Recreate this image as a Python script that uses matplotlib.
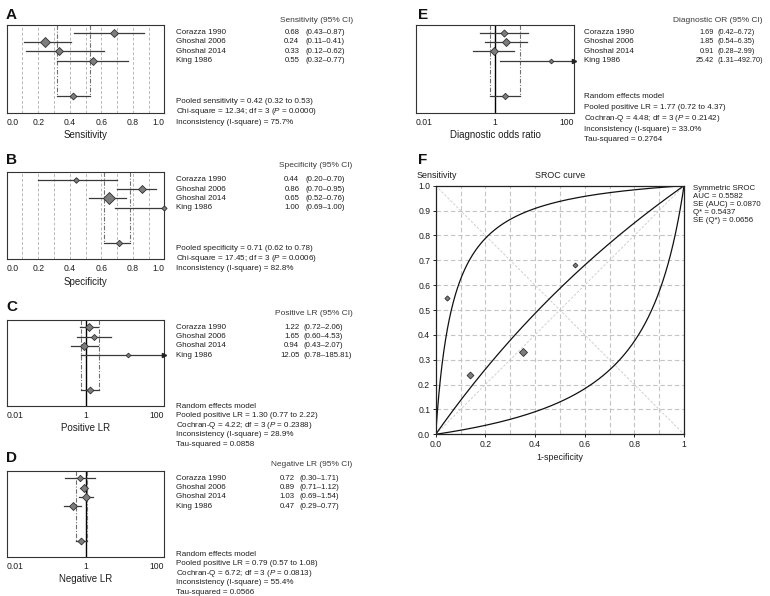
import numpy as np
import matplotlib
matplotlib.use("Agg")
import matplotlib.pyplot as plt
from matplotlib import transforms

plt.rcParams["font.family"] = "Liberation Sans"
plt.rcParams["mathtext.fontset"] = "custom"
plt.rcParams["mathtext.it"] = "Liberation Sans:italic"
plt.rcParams["mathtext.rm"] = "Liberation Sans"

# ---- data ----
studies = ["Corazza 1990", "Ghoshal 2006", "Ghoshal 2014", "King 1986"]

sens = [0.68, 0.24, 0.33, 0.55]
sens_lo = [0.43, 0.11, 0.12, 0.32]
sens_hi = [0.87, 0.41, 0.62, 0.77]
sens_pool = [0.42, 0.32, 0.53]

spec = [0.44, 0.86, 0.65, 1.00]
spec_lo = [0.20, 0.70, 0.52, 0.69]
spec_hi = [0.70, 0.95, 0.76, 1.00]
spec_pool = [0.71, 0.62, 0.78]

plr = [1.22, 1.65, 0.94, 12.05]
plr_lo = [0.72, 0.60, 0.43, 0.78]
plr_hi = [2.06, 4.53, 2.07, 185.81]
plr_pool = [1.30, 0.77, 2.22]

nlr = [0.72, 0.89, 1.03, 0.47]
nlr_lo = [0.30, 0.71, 0.69, 0.29]
nlr_hi = [1.71, 1.12, 1.54, 0.77]
nlr_pool = [0.79, 0.57, 1.08]

dor = [1.69, 1.85, 0.91, 25.42]
dor_lo = [0.42, 0.54, 0.28, 1.31]
dor_hi = [6.72, 6.35, 2.99, 492.70]
dor_pool = [1.77, 0.72, 4.37]

# SROC: observed points (1-specificity, sensitivity) and curve parameters (D)
sroc_fpr = [0.56, 0.14, 0.35, 0.045]
sroc_sens = [0.68, 0.24, 0.33, 0.55]
sroc_D = [2.70, 0.35, -1.90]

# ---- layout helpers ----
W, H = 770, 596
fig = plt.figure(figsize=(W / 100, H / 100), dpi=100)
TXT = "#1e1e1e"
FS = 5.8      # names / stats
MK = 1.2      # marker scale


def box(l, t, r, b):
    return fig.add_axes([l / W, 1 - b / H, (r - l) / W, (b - t) / H])


def ftext(x, y, s, **kw):
    kw.setdefault("size", FS)
    kw.setdefault("color", TXT)
    kw.setdefault("va", "center")
    fig.text(x / W, 1 - y / H, s, **kw)


def forest(ax, est, lo, hi, pool, sizes, log, xlabel):
    xmin, xmax = (0.01, 100) if log else (0, 1)
    prow = 6.75
    if log:
        ax.set_xscale("log")
    ax.set_xlim(xmin, xmax)
    ax.set_ylim(8.5, -0.8)
    if log:
        ax.axvline(1, color="black", lw=1, zorder=1)
        ticks, labels = [0.01, 1, 100], ["0.01", "1", "100"]
    else:
        for g in np.arange(0.1, 0.95, 0.1):
            ax.axvline(g, color="#b8b8b8", lw=0.7, ls=(0, (3, 2)), zorder=0)
        ticks = [0, 0.2, 0.4, 0.6, 0.8, 1.0]
        labels = ["0.0", "0.2", "0.4", "0.6", "0.8", "1.0"]
    ax.vlines([pool[1], pool[2]], -0.8, prow, colors="#707070", lw=0.8,
              linestyles=(0, (4, 1.5, 1, 1.5)), zorder=1)
    for r, (e, l, h) in enumerate(zip(est, lo, hi)):
        ax.plot([l, min(h, xmax)], [r, r], color="#3a3a3a", lw=0.9, zorder=2)
        if h > xmax:
            ax.plot(xmax, r, marker=">", ms=3, color="#222222", clip_on=False, zorder=3)
        ax.plot(e, r, marker="D", ms=sizes[r] * MK, mfc="#7d7d7d", mec="#303030",
                mew=0.6, zorder=4, clip_on=False)
    ax.plot([pool[1], pool[2]], [prow, prow], color="#3a3a3a", lw=0.9, zorder=2)
    ax.plot(pool[0], prow, marker="D", ms=sizes[-1] * MK, mfc="#7d7d7d", mec="#303030",
            mew=0.6, zorder=4)
    ax.set_xticks(ticks)
    ax.set_xticklabels(labels)
    ax.minorticks_off()
    tl = ax.get_xticklabels()
    tl[0].set_ha("left")
    tl[-1].set_ha("right")
    ax.set_yticks([])
    ax.tick_params(length=0, pad=3.5, labelsize=6.2, labelcolor=TXT)
    for sp in ax.spines.values():
        sp.set_linewidth(0.8)
        sp.set_color("#333333")
    ax.set_xlabel(xlabel, size=7.0, color=TXT, labelpad=2.5)


def table(ax, est, lo, hi, header, hdr_y, name_x, val_x, ci_x, hdr_x, num=5.6):
    tr = transforms.blended_transform_factory(fig.transFigure, ax.transData)
    ftext(hdr_x, hdr_y, header, ha="right", size=6.0, color="#3a3a3a")
    for r, (n, e, l, h) in enumerate(zip(studies, est, lo, hi)):
        fig.text(name_x / W, r, n, transform=tr, size=FS, color=TXT, va="center")
        fig.text(val_x / W, r, f"{e:.2f}", transform=tr, size=num, color=TXT,
                 va="center", ha="right")
        fig.text(ci_x / W, r, f"({l:.2f}–{h:.2f})", transform=tr, size=num,
                 color=TXT, va="center")


def stats(lines, x, y0, dy):
    for i, s in enumerate(lines):
        ftext(x, y0 + i * dy, s)


# ---- A ----
axA = box(6.7, 25, 164.3, 112.7)
forest(axA, sens, sens_lo, sens_hi, sens_pool, [3.2, 3.9, 3.1, 3.1, 2.9], False, "Sensitivity")
table(axA, sens, sens_lo, sens_hi, "Sensitivity (95% CI)", 21, 175.7, 299.3, 305.5, 352.7)
stats(["Pooled sensitivity = 0.42 (0.32 to 0.53)",
       r"Chi-square = 12.34; df = 3 ($\mathit{P}$ = 0.0000)",
       "Inconsistency (I-square) = 75.7%"], 175.7, 101.7, 10.2)
ftext(6, 15, "A", size=11, weight="bold", color="#111111")

# ---- B ----
axB = box(6.7, 172.3, 164.3, 259.3)
forest(axB, spec, spec_lo, spec_hi, spec_pool, [2.4, 3.4, 4.7, 2.2, 2.7], False, "Specificity")
table(axB, spec, spec_lo, spec_hi, "Specificity (95% CI)", 165.3, 175.7, 299.3, 305.5, 352.7)
stats(["Pooled specificity = 0.71 (0.62 to 0.78)",
       r"Chi-square = 17.45; df = 3 ($\mathit{P}$ = 0.0006)",
       "Inconsistency (I-square) = 82.8%"], 175.7, 248.7, 9.7)
ftext(6, 160, "B", size=11, weight="bold", color="#111111")

# ---- C ----
axC = box(6.7, 320, 164.3, 405.7)
forest(axC, plr, plr_lo, plr_hi, plr_pool, [3.4, 2.6, 3.2, 2.0, 2.9], True, "Positive LR")
table(axC, plr, plr_lo, plr_hi, "Positive LR (95% CI)", 313.7, 175.7, 299.3, 303.5, 352.7)
stats(["Random effects model",
       "Pooled positive LR = 1.30 (0.77 to 2.22)",
       r"Cochran-Q = 4.22; df = 3 ($\mathit{P}$ = 0.2388)",
       "Inconsistency (I-square) = 28.9%",
       "Tau-squared = 0.0858"], 175.7, 406, 9.6)
ftext(6, 306.7, "C", size=11, weight="bold", color="#111111")

# ---- D ----
axD = box(6.7, 471, 164.3, 556.7)
forest(axD, nlr, nlr_lo, nlr_hi, nlr_pool, [2.7, 3.7, 3.4, 3.1, 2.9], True, "Negative LR")
table(axD, nlr, nlr_lo, nlr_hi, "Negative LR (95% CI)", 465, 175.7, 294.5, 299.5, 352.7)
stats(["Random effects model",
       "Pooled positive LR = 0.79 (0.57 to 1.08)",
       r"Cochran-Q = 6.72; df = 3 ($\mathit{P}$ = 0.0813)",
       "Inconsistency (I-square) = 55.4%",
       "Tau-squared = 0.0566"], 175.7, 554.5, 9.4)
ftext(6, 458.3, "D", size=11, weight="bold", color="#111111")

# ---- E ----
axE = box(416, 25, 574.3, 112.7)
forest(axE, dor, dor_lo, dor_hi, dor_pool, [3.0, 3.6, 3.7, 2.0, 2.7], True, "Diagnostic odds ratio")
table(axE, dor, dor_lo, dor_hi, "Diagnostic OR (95% CI)", 21, 584, 714, 718, 762.7, num=5.2)
stats(["Random effects model",
       "Pooled positive LR = 1.77 (0.72 to 4.37)",
       r"Cochran-Q = 4.48; df = 3 ($\mathit{P}$ = 0.2142)",
       "Inconsistency (I-square) = 33.0%",
       "Tau-squared = 0.2764"], 584, 97, 10.7)
ftext(418, 15, "E", size=11, weight="bold", color="#111111")

# ---- F: SROC ----
axF = box(435.7, 185.7, 684, 434.3)
axF.set_xlim(0, 1)
axF.set_ylim(0, 1)
for g in np.arange(0.1, 0.95, 0.1):
    axF.axvline(g, color="#c4c4c4", lw=0.8, ls=(0, (4, 2.5)), zorder=0)
    axF.axhline(g, color="#c4c4c4", lw=0.8, ls=(0, (4, 2.5)), zorder=0)
axF.plot([0, 1], [0, 1], color="#c8c8c8", lw=0.6, ls=(0, (3, 2)), zorder=1)
axF.plot([0, 1], [1, 0], color="#c8c8c8", lw=0.6, ls=(0, (3, 2)), zorder=1)
f = np.linspace(0, 1, 801)
with np.errstate(divide="ignore", invalid="ignore"):
    for d in sroc_D:
        s = 1 / (1 + np.exp(-d) * (1 - f) / f)
        s[0], s[-1] = 0, 1
        axF.plot(f, s, color="#111111", lw=0.9, zorder=2)
for x, y, ms in zip(sroc_fpr, sroc_sens, [2.1, 2.9, 3.2, 2.2]):
    axF.plot(x, y, marker="D", ms=ms * MK, mfc="#7d7d7d", mec="#303030", mew=0.6, zorder=3)
axF.set_xticks([0, 0.2, 0.4, 0.6, 0.8, 1])
axF.set_xticklabels(["0.0", "0.2", "0.4", "0.6", "0.8", "1"])
axF.set_yticks(np.arange(0, 1.01, 0.1))
axF.set_yticklabels([f"{v:.1f}" for v in np.arange(0, 1.01, 0.1)])
axF.tick_params(direction="out", length=2.5, width=0.6, labelsize=6.2,
                labelcolor=TXT, pad=1.5)
for sp in axF.spines.values():
    sp.set_linewidth(0.9)
    sp.set_color("#222222")
ftext(417, 175, "Sensitivity", size=6.4)
ftext(560, 175, "SROC curve", size=6.4, ha="center")
ftext(560, 458, "1-specificity", size=6.4, ha="center")
for i, s in enumerate(["Symmetric SROC", "AUC = 0.5582", "SE (AUC) = 0.0870",
                       "Q* = 0.5437", "SE (Q*) = 0.0656"]):
    ftext(693.3, 189 + i * 7.9, s, size=5.7)
ftext(418, 160, "F", size=11, weight="bold", color="#111111")

fig.savefig("out.png", dpi=100)
